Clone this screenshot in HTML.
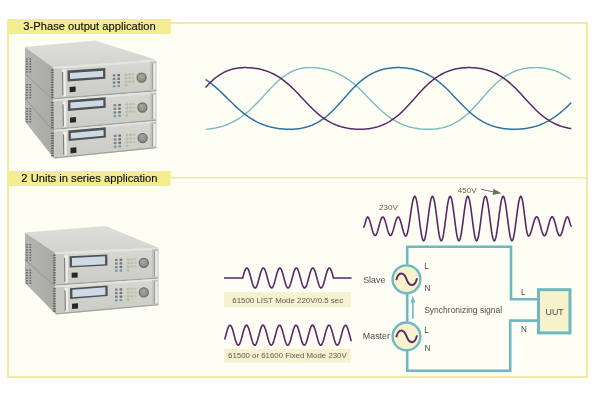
<!DOCTYPE html>
<html><head><meta charset="utf-8"><style>
html,body{margin:0;padding:0;background:#fff;width:600px;height:400px;overflow:hidden}
svg{display:block;font-family:"Liberation Sans",sans-serif;filter:blur(0.3px)}
</style></head><body>
<svg width="600" height="400" viewBox="0 0 600 400">
<defs>
<linearGradient id="front" x1="0" y1="0" x2="0" y2="1"><stop offset="0" stop-color="#d8d8d3"/><stop offset="1" stop-color="#cbcbc6"/></linearGradient>
<linearGradient id="side" x1="0" y1="0" x2="1" y2="0"><stop offset="0" stop-color="#b6b6b1"/><stop offset="1" stop-color="#a9a9a4"/></linearGradient>
<linearGradient id="topg" x1="0" y1="0" x2="0" y2="1"><stop offset="0" stop-color="#dededa"/><stop offset="1" stop-color="#d3d3ce"/></linearGradient>
<radialGradient id="knob" cx="0.45" cy="0.4" r="0.6"><stop offset="0" stop-color="#a8a8a3"/><stop offset="1" stop-color="#85857f"/></radialGradient>
</defs>
<rect x="0" y="0" width="600" height="400" fill="#ffffff"/><rect x="8" y="23" width="579" height="354" fill="#fffef4" stroke="#f0eaa8" stroke-width="2.2"/><line x1="8" y1="177.75" x2="587" y2="177.75" stroke="#f0eaa8" stroke-width="1.5"/><rect x="7.5" y="19" width="163.5" height="15" fill="#f3ed8f"/><rect x="7.5" y="171" width="163" height="15" fill="#f3ed8f"/><text x="23.3" y="30" font-size="11.2" fill="#0c0c0c" stroke="#0c0c0c" stroke-width="0.12">3-Phase output application</text><text x="21.3" y="181.5" font-size="11.2" fill="#0c0c0c" stroke="#0c0c0c" stroke-width="0.12">2 Units in series application</text><path d="M206.00,129.15 L208.18,128.99 L209.56,128.85 L210.91,128.69 L212.24,128.51 L213.55,128.31 L214.84,128.09 L216.11,127.84 L217.37,127.57 L218.60,127.28 L219.82,126.98 L221.02,126.65 L222.20,126.30 L223.36,125.94 L224.50,125.55 L225.63,125.15 L226.74,124.73 L227.84,124.29 L228.92,123.84 L229.98,123.37 L231.03,122.88 L232.07,122.38 L233.09,121.87 L234.09,121.33 L235.08,120.79 L236.06,120.23 L237.03,119.66 L237.98,119.07 L238.92,118.48 L239.84,117.87 L240.76,117.25 L241.66,116.62 L242.55,115.97 L243.43,115.32 L244.30,114.66 L245.16,113.98 L246.01,113.30 L246.85,112.61 L247.68,111.92 L248.50,111.21 L249.31,110.50 L250.11,109.78 L251.69,108.32 L253.24,106.84 L254.77,105.34 L256.27,103.82 L257.74,102.30 L259.20,100.76 L260.64,99.22 L262.06,97.68 L263.48,96.14 L264.88,94.60 L266.27,93.08 L267.66,91.56 L269.05,90.06 L270.44,88.58 L271.83,87.12 L273.23,85.69 L274.64,84.29 L276.05,82.92 L277.48,81.58 L278.93,80.28 L280.39,79.03 L281.88,77.83 L283.39,76.67 L284.92,75.57 L286.49,74.52 L288.08,73.53 L288.89,73.06 L289.71,72.61 L290.54,72.17 L291.37,71.75 L292.22,71.35 L293.08,70.96 L293.95,70.60 L294.82,70.25 L295.71,69.92 L296.61,69.62 L297.53,69.33 L298.45,69.06 L299.39,68.81 L300.34,68.59 L301.30,68.39 L302.27,68.21 L303.26,68.05 L304.27,67.91 L305.28,67.80 L306.31,67.71 L307.36,67.65 L308.42,67.61 L309.50,67.60 L310.98,67.61 L312.43,67.65 L313.85,67.71 L315.26,67.80 L316.64,67.91 L317.99,68.05 L319.33,68.21 L320.64,68.39 L321.93,68.59 L323.20,68.81 L324.45,69.06 L325.68,69.33 L326.89,69.62 L328.08,69.92 L329.26,70.25 L330.41,70.60 L331.54,70.96 L332.66,71.35 L333.76,71.75 L334.84,72.17 L335.91,72.61 L336.96,73.06 L337.99,73.53 L339.01,74.02 L340.02,74.52 L341.01,75.03 L341.98,75.57 L342.94,76.11 L343.89,76.67 L344.83,77.24 L345.75,77.83 L346.66,78.42 L347.56,79.03 L348.45,79.65 L349.33,80.28 L350.20,80.93 L351.06,81.58 L351.90,82.24 L352.74,82.92 L353.57,83.60 L354.40,84.29 L355.21,84.98 L356.02,85.69 L356.82,86.40 L358.40,87.85 L359.96,89.32 L361.49,90.81 L363.01,92.32 L364.52,93.84 L366.02,95.37 L367.51,96.91 L369.00,98.45 L370.49,99.99 L371.98,101.53 L373.48,103.06 L374.99,104.58 L376.51,106.09 L378.04,107.58 L379.60,109.05 L381.18,110.50 L381.98,111.21 L382.79,111.92 L383.60,112.61 L384.43,113.30 L385.26,113.98 L386.10,114.66 L386.94,115.32 L387.80,115.97 L388.67,116.62 L389.55,117.25 L390.44,117.87 L391.34,118.48 L392.25,119.07 L393.17,119.66 L394.11,120.23 L395.06,120.79 L396.02,121.33 L396.99,121.87 L397.98,122.38 L398.99,122.88 L400.01,123.37 L401.04,123.84 L402.09,124.29 L403.16,124.73 L404.24,125.15 L405.34,125.55 L406.46,125.94 L407.59,126.30 L408.74,126.65 L409.92,126.98 L411.11,127.28 L412.32,127.57 L413.55,127.84 L414.80,128.09 L416.07,128.31 L417.36,128.51 L418.67,128.69 L420.01,128.85 L421.36,128.99 L422.74,129.10 L424.15,129.19 L425.57,129.25 L427.02,129.29 L428.50,129.30 L429.83,129.29 L431.13,129.25 L432.42,129.19 L433.68,129.10 L434.92,128.99 L436.14,128.85 L437.35,128.69 L438.53,128.51 L439.69,128.31 L440.83,128.09 L441.96,127.84 L443.07,127.57 L444.15,127.28 L445.23,126.98 L446.28,126.65 L447.32,126.30 L448.34,125.94 L449.34,125.55 L450.33,125.15 L451.31,124.73 L452.27,124.29 L453.21,123.84 L454.14,123.37 L455.06,122.88 L455.96,122.38 L456.86,121.87 L457.73,121.33 L458.60,120.79 L459.45,120.23 L460.30,119.66 L461.13,119.07 L461.95,118.48 L462.76,117.87 L464.35,116.62 L465.90,115.32 L467.42,113.98 L468.91,112.61 L470.37,111.21 L471.80,109.78 L473.21,108.32 L474.60,106.84 L475.98,105.34 L477.34,103.82 L478.70,102.30 L480.04,100.76 L481.38,99.22 L482.72,97.68 L484.06,96.14 L485.40,94.60 L486.76,93.08 L488.12,91.56 L489.50,90.06 L490.89,88.58 L492.30,87.12 L493.73,85.69 L495.19,84.29 L496.68,82.92 L498.20,81.58 L499.75,80.28 L501.34,79.03 L502.15,78.42 L502.97,77.83 L503.80,77.24 L504.65,76.67 L505.50,76.11 L506.37,75.57 L507.24,75.03 L508.14,74.52 L509.04,74.02 L509.96,73.53 L510.89,73.06 L511.83,72.61 L512.79,72.17 L513.77,71.75 L514.76,71.35 L515.76,70.96 L516.78,70.60 L517.82,70.25 L518.87,69.92 L519.95,69.62 L521.03,69.33 L522.14,69.06 L523.27,68.81 L524.41,68.59 L525.57,68.39 L526.75,68.21 L527.96,68.05 L529.18,67.91 L530.42,67.80 L531.68,67.71 L532.97,67.65 L534.27,67.61 L535.60,67.60 L536.94,67.61 L538.25,67.65 L539.54,67.71 L540.81,67.80 L542.06,67.91 L543.29,68.05 L544.50,68.21 L545.68,68.39 L546.85,68.59 L548.00,68.81 L549.13,69.06 L550.25,69.33 L551.34,69.62 L552.42,69.92 L553.48,70.25 L554.52,70.60 L555.55,70.96 L556.56,71.35 L557.56,71.75 L558.54,72.17 L559.50,72.61 L560.45,73.06 L561.39,73.53 L562.31,74.02 L563.22,74.52 L564.11,75.03 L565.00,75.57 L565.87,76.11 L566.73,76.67 L567.57,77.24 L568.41,77.83 L569.23,78.42 L570.05,79.03 L570.50,79.38" fill="none" stroke="#78bac2" stroke-width="1.4"/><path d="M205.50,79.38 L206.84,80.28 L207.75,80.93 L208.65,81.58 L209.54,82.24 L210.42,82.92 L211.30,83.60 L212.16,84.29 L213.02,84.98 L213.86,85.69 L214.70,86.40 L215.54,87.12 L216.36,87.85 L217.18,88.58 L218.00,89.32 L218.81,90.06 L219.62,90.81 L220.42,91.56 L222.01,93.08 L223.58,94.60 L225.15,96.14 L226.72,97.68 L228.28,99.22 L229.85,100.76 L231.42,102.30 L232.99,103.82 L234.58,105.34 L235.38,106.09 L236.19,106.84 L237.00,107.58 L237.82,108.32 L238.64,109.05 L239.46,109.78 L240.30,110.50 L241.14,111.21 L241.98,111.92 L242.84,112.61 L243.70,113.30 L244.58,113.98 L245.46,114.66 L246.35,115.32 L247.25,115.97 L248.16,116.62 L249.08,117.25 L250.02,117.87 L250.96,118.48 L251.92,119.07 L252.89,119.66 L253.87,120.23 L254.87,120.79 L255.88,121.33 L256.91,121.87 L257.95,122.38 L259.00,122.88 L260.07,123.37 L261.16,123.84 L262.26,124.29 L263.38,124.73 L264.52,125.15 L265.67,125.55 L266.85,125.94 L268.04,126.30 L269.25,126.65 L270.48,126.98 L271.73,127.28 L273.00,127.57 L274.29,127.84 L275.60,128.09 L276.94,128.31 L278.30,128.51 L279.68,128.69 L281.08,128.85 L282.50,128.99 L283.95,129.10 L285.43,129.19 L286.93,129.25 L288.45,129.29 L290.00,129.30 L291.34,129.29 L292.66,129.25 L293.95,129.19 L295.22,129.10 L296.48,128.99 L297.71,128.85 L298.92,128.69 L300.11,128.51 L301.28,128.31 L302.44,128.09 L303.57,127.84 L304.69,127.57 L305.79,127.28 L306.87,126.98 L307.93,126.65 L308.98,126.30 L310.01,125.94 L311.02,125.55 L312.02,125.15 L313.00,124.73 L313.97,124.29 L314.92,123.84 L315.86,123.37 L316.78,122.88 L317.70,122.38 L318.59,121.87 L319.48,121.33 L320.35,120.79 L321.21,120.23 L322.06,119.66 L322.90,119.07 L323.73,118.48 L324.54,117.87 L325.35,117.25 L326.94,115.97 L328.48,114.66 L330.00,113.30 L331.49,111.92 L332.94,110.50 L334.38,109.05 L335.79,107.58 L337.19,106.09 L338.57,104.58 L339.94,103.06 L341.30,101.53 L342.65,99.99 L344.00,98.45 L345.35,96.91 L346.70,95.37 L348.06,93.84 L349.43,92.32 L350.81,90.81 L352.21,89.32 L353.62,87.85 L355.06,86.40 L356.51,84.98 L358.00,83.60 L359.52,82.24 L361.06,80.93 L362.65,79.65 L363.46,79.03 L364.27,78.42 L365.10,77.83 L365.94,77.24 L366.79,76.67 L367.65,76.11 L368.52,75.57 L369.41,75.03 L370.30,74.52 L371.22,74.02 L372.14,73.53 L373.08,73.06 L374.03,72.61 L375.00,72.17 L375.98,71.75 L376.98,71.35 L377.99,70.96 L379.02,70.60 L380.07,70.25 L381.13,69.92 L382.21,69.62 L383.31,69.33 L384.43,69.06 L385.56,68.81 L386.72,68.59 L387.89,68.39 L389.08,68.21 L390.29,68.05 L391.52,67.91 L392.78,67.80 L394.05,67.71 L395.34,67.65 L396.66,67.61 L398.00,67.60 L399.44,67.61 L400.85,67.65 L402.24,67.71 L403.61,67.80 L404.96,67.91 L406.28,68.05 L407.58,68.21 L408.86,68.39 L410.12,68.59 L411.36,68.81 L412.58,69.06 L413.78,69.33 L414.96,69.62 L416.12,69.92 L417.26,70.25 L418.38,70.60 L419.49,70.96 L420.58,71.35 L421.65,71.75 L422.70,72.17 L423.74,72.61 L424.77,73.06 L425.77,73.53 L426.77,74.02 L427.75,74.52 L428.71,75.03 L429.66,75.57 L430.60,76.11 L431.53,76.67 L432.44,77.24 L433.34,77.83 L434.23,78.42 L435.10,79.03 L435.97,79.65 L436.83,80.28 L437.67,80.93 L438.51,81.58 L439.34,82.24 L440.15,82.92 L440.96,83.60 L441.76,84.29 L443.35,85.69 L444.90,87.12 L446.43,88.58 L447.94,90.06 L449.43,91.56 L450.90,93.08 L452.37,94.60 L453.82,96.14 L455.27,97.68 L456.73,99.22 L458.18,100.76 L459.63,102.30 L461.10,103.82 L462.57,105.34 L464.06,106.84 L465.57,108.32 L467.10,109.78 L468.65,111.21 L470.24,112.61 L471.04,113.30 L471.85,113.98 L472.66,114.66 L473.49,115.32 L474.33,115.97 L475.17,116.62 L476.03,117.25 L476.90,117.87 L477.77,118.48 L478.66,119.07 L479.56,119.66 L480.47,120.23 L481.40,120.79 L482.34,121.33 L483.29,121.87 L484.25,122.38 L485.23,122.88 L486.23,123.37 L487.23,123.84 L488.26,124.29 L489.30,124.73 L490.35,125.15 L491.42,125.55 L492.51,125.94 L493.62,126.30 L494.74,126.65 L495.88,126.98 L497.04,127.28 L498.22,127.57 L499.42,127.84 L500.64,128.09 L501.88,128.31 L503.14,128.51 L504.42,128.69 L505.72,128.85 L507.04,128.99 L508.39,129.10 L509.76,129.19 L511.15,129.25 L512.56,129.29 L514.00,129.30 L515.52,129.29 L517.02,129.25 L518.50,129.19 L519.95,129.10 L521.38,128.99 L522.78,128.85 L524.16,128.69 L525.52,128.51 L526.85,128.31 L528.16,128.09 L529.46,127.84 L530.73,127.57 L531.98,127.28 L533.21,126.98 L534.42,126.65 L535.61,126.30 L536.78,125.94 L537.94,125.55 L539.08,125.15 L540.19,124.73 L541.30,124.29 L542.38,123.84 L543.45,123.37 L544.50,122.88 L545.54,122.38 L546.56,121.87 L547.57,121.33 L548.57,120.79 L549.55,120.23 L550.52,119.66 L551.47,119.07 L552.41,118.48 L553.34,117.87 L554.26,117.25 L555.17,116.62 L556.07,115.97 L556.95,115.32 L557.83,114.66 L558.70,113.98 L559.56,113.30 L560.41,112.61 L561.25,111.92 L562.08,111.21 L562.91,110.50 L563.73,109.78 L564.54,109.05 L565.35,108.32 L566.15,107.58 L567.74,106.09 L569.31,104.58 L570.87,103.06 L571.30,102.64" fill="none" stroke="#2d72a5" stroke-width="1.5"/><path d="M205.50,87.54 L206.51,86.40 L207.82,84.98 L209.15,83.60 L210.51,82.24 L211.89,80.93 L213.31,79.65 L214.77,78.42 L216.26,77.24 L217.80,76.11 L219.37,75.03 L220.18,74.52 L220.99,74.02 L221.82,73.53 L222.66,73.06 L223.52,72.61 L224.39,72.17 L225.27,71.75 L226.16,71.35 L227.07,70.96 L227.99,70.60 L228.93,70.25 L229.88,69.92 L230.85,69.62 L231.84,69.33 L232.84,69.06 L233.85,68.81 L234.89,68.59 L235.94,68.39 L237.00,68.21 L238.09,68.05 L239.20,67.91 L240.32,67.80 L241.46,67.71 L242.62,67.65 L243.80,67.61 L245.00,67.60 L246.43,67.61 L247.83,67.65 L249.21,67.71 L250.56,67.80 L251.90,67.91 L253.21,68.05 L254.50,68.21 L255.77,68.39 L257.02,68.59 L258.24,68.81 L259.45,69.06 L260.64,69.33 L261.81,69.62 L262.96,69.92 L264.09,70.25 L265.21,70.60 L266.30,70.96 L267.38,71.35 L268.44,71.75 L269.49,72.17 L270.52,72.61 L271.54,73.06 L272.54,73.53 L273.52,74.02 L274.49,74.52 L275.45,75.03 L276.39,75.57 L277.32,76.11 L278.24,76.67 L279.14,77.24 L280.03,77.83 L280.91,78.42 L281.78,79.03 L282.64,79.65 L283.49,80.28 L284.33,80.93 L285.16,81.58 L285.98,82.24 L286.79,82.92 L287.59,83.60 L289.17,84.98 L290.73,86.40 L292.25,87.85 L293.76,89.32 L295.25,90.81 L296.72,92.32 L298.17,93.84 L299.62,95.37 L301.06,96.91 L302.50,98.45 L303.94,99.99 L305.38,101.53 L306.83,103.06 L308.28,104.58 L309.75,106.09 L311.24,107.58 L312.75,109.05 L314.27,110.50 L315.83,111.92 L317.41,113.30 L318.21,113.98 L319.02,114.66 L319.84,115.32 L320.67,115.97 L321.51,116.62 L322.36,117.25 L323.22,117.87 L324.09,118.48 L324.97,119.07 L325.86,119.66 L326.76,120.23 L327.68,120.79 L328.61,121.33 L329.55,121.87 L330.51,122.38 L331.48,122.88 L332.46,123.37 L333.46,123.84 L334.48,124.29 L335.51,124.73 L336.56,125.15 L337.62,125.55 L338.70,125.94 L339.79,126.30 L340.91,126.65 L342.04,126.98 L343.19,127.28 L344.36,127.57 L345.55,127.84 L346.76,128.09 L347.98,128.31 L349.23,128.51 L350.50,128.69 L351.79,128.85 L353.10,128.99 L354.44,129.10 L355.79,129.19 L357.17,129.25 L358.57,129.29 L360.00,129.30 L361.35,129.29 L362.68,129.25 L363.99,129.19 L365.27,129.10 L366.54,128.99 L367.78,128.85 L369.00,128.69 L370.21,128.51 L371.39,128.31 L372.55,128.09 L373.70,127.84 L374.82,127.57 L375.93,127.28 L377.02,126.98 L378.10,126.65 L379.15,126.30 L380.19,125.94 L381.21,125.55 L382.22,125.15 L383.21,124.73 L384.19,124.29 L385.15,123.84 L386.10,123.37 L387.03,122.88 L387.95,122.38 L388.86,121.87 L389.75,121.33 L390.63,120.79 L391.50,120.23 L392.36,119.66 L393.21,119.07 L394.04,118.48 L394.86,117.87 L395.68,117.25 L396.48,116.62 L398.06,115.32 L399.61,113.98 L401.12,112.61 L402.61,111.21 L404.07,109.78 L405.51,108.32 L406.92,106.84 L408.32,105.34 L409.71,103.82 L411.09,102.30 L412.45,100.76 L413.82,99.22 L415.18,97.68 L416.55,96.14 L417.91,94.60 L419.29,93.08 L420.68,91.56 L422.08,90.06 L423.49,88.58 L424.93,87.12 L426.39,85.69 L427.88,84.29 L429.39,82.92 L430.94,81.58 L432.52,80.28 L433.32,79.65 L434.14,79.03 L434.96,78.42 L435.79,77.83 L436.64,77.24 L437.50,76.67 L438.37,76.11 L439.25,75.57 L440.14,75.03 L441.05,74.52 L441.97,74.02 L442.90,73.53 L443.85,73.06 L444.81,72.61 L445.79,72.17 L446.78,71.75 L447.79,71.35 L448.81,70.96 L449.85,70.60 L450.90,70.25 L451.98,69.92 L453.07,69.62 L454.18,69.33 L455.30,69.06 L456.45,68.81 L457.61,68.59 L458.79,68.39 L460.00,68.21 L461.22,68.05 L462.46,67.91 L463.73,67.80 L465.01,67.71 L466.32,67.65 L467.65,67.61 L469.00,67.60 L470.39,67.61 L471.75,67.65 L473.10,67.71 L474.42,67.80 L475.72,67.91 L476.99,68.05 L478.25,68.21 L479.49,68.39 L480.70,68.59 L481.90,68.81 L483.07,69.06 L484.23,69.33 L485.37,69.62 L486.49,69.92 L487.59,70.25 L488.68,70.60 L489.75,70.96 L490.80,71.35 L491.83,71.75 L492.85,72.17 L493.86,72.61 L494.84,73.06 L495.82,73.53 L496.78,74.02 L497.72,74.52 L498.65,75.03 L499.57,75.57 L500.48,76.11 L501.37,76.67 L502.25,77.24 L503.12,77.83 L503.98,78.42 L504.82,79.03 L505.66,79.65 L506.49,80.28 L507.30,80.93 L508.11,81.58 L509.70,82.92 L511.26,84.29 L512.78,85.69 L514.28,87.12 L515.76,88.58 L517.21,90.06 L518.65,91.56 L520.08,93.08 L521.49,94.60 L522.90,96.14 L524.30,97.68 L525.70,99.22 L527.10,100.76 L528.51,102.30 L529.92,103.82 L531.35,105.34 L532.79,106.84 L534.24,108.32 L535.72,109.78 L537.22,111.21 L538.74,112.61 L540.30,113.98 L541.89,115.32 L542.70,115.97 L543.51,116.62 L544.34,117.25 L545.18,117.87 L546.02,118.48 L546.88,119.07 L547.75,119.66 L548.63,120.23 L549.52,120.79 L550.43,121.33 L551.35,121.87 L552.28,122.38 L553.22,122.88 L554.18,123.37 L555.16,123.84 L556.14,124.29 L557.15,124.73 L558.17,125.15 L559.20,125.55 L560.25,125.94 L561.32,126.30 L562.41,126.65 L563.51,126.98 L564.63,127.28 L565.77,127.57 L566.93,127.84 L568.10,128.09 L569.30,128.31 L570.51,128.51 L571.30,128.63" fill="none" stroke="#572866" stroke-width="1.5"/><path d="M363.30,227.50 L363.82,227.10 L364.35,225.96 L364.88,224.26 L365.40,222.25 L365.93,220.24 L366.45,218.54 L366.98,217.40 L367.50,217.00 L368.01,217.20 L368.51,217.80 L369.02,218.77 L369.53,220.06 L370.03,221.62 L370.54,223.39 L371.05,225.28 L371.55,227.22 L372.06,229.11 L372.57,230.88 L373.07,232.44 L373.58,233.73 L374.09,234.70 L374.59,235.30 L375.10,235.50 L375.61,235.30 L376.13,234.70 L376.64,233.73 L377.15,232.44 L377.67,230.88 L378.18,229.11 L378.69,227.22 L379.21,225.28 L379.72,223.39 L380.23,221.62 L380.75,220.06 L381.26,218.77 L381.77,217.80 L382.29,217.20 L382.80,217.00 L383.31,217.20 L383.81,217.80 L384.32,218.77 L384.83,220.06 L385.33,221.62 L385.84,223.39 L386.35,225.28 L386.85,227.22 L387.36,229.11 L387.87,230.88 L388.37,232.44 L388.88,233.73 L389.39,234.70 L389.89,235.30 L390.40,235.50 L390.92,235.30 L391.44,234.70 L391.96,233.73 L392.48,232.44 L393.00,230.88 L393.52,229.11 L394.04,227.22 L394.56,225.28 L395.08,223.39 L395.60,221.62 L396.12,220.06 L396.64,218.77 L397.16,217.80 L397.68,217.20 L398.20,217.00 L398.71,217.21 L399.21,217.82 L399.72,218.81 L400.23,220.14 L400.73,221.75 L401.24,223.56 L401.75,225.51 L402.25,227.49 L402.76,229.44 L403.27,231.25 L403.77,232.86 L404.28,234.19 L404.79,235.18 L405.29,235.79 L405.80,236.00 L406.30,235.70 L406.80,234.80 L407.30,233.34 L407.80,231.36 L408.30,228.91 L408.80,226.08 L409.30,222.94 L409.80,219.60 L410.30,216.15 L410.80,212.70 L411.30,209.36 L411.80,206.23 L412.30,203.39 L412.80,200.94 L413.30,198.96 L413.80,197.50 L414.30,196.60 L414.80,196.30 L415.32,196.68 L415.84,197.80 L416.35,199.63 L416.87,202.11 L417.39,205.14 L417.91,208.63 L418.42,212.46 L418.94,216.50 L419.46,220.60 L419.98,224.64 L420.49,228.47 L421.01,231.96 L421.53,234.99 L422.05,237.47 L422.56,239.30 L423.08,240.42 L423.60,240.80 L424.12,240.42 L424.64,239.30 L425.17,237.47 L425.69,234.99 L426.21,231.96 L426.73,228.47 L427.25,224.64 L427.77,220.60 L428.30,216.50 L428.82,212.46 L429.34,208.63 L429.86,205.14 L430.38,202.11 L430.90,199.63 L431.43,197.80 L431.95,196.68 L432.47,196.30 L432.99,196.68 L433.51,197.80 L434.02,199.63 L434.54,202.11 L435.06,205.14 L435.58,208.63 L436.09,212.46 L436.61,216.50 L437.13,220.60 L437.65,224.64 L438.16,228.47 L438.68,231.96 L439.20,234.99 L439.72,237.47 L440.23,239.30 L440.75,240.42 L441.27,240.80 L441.79,240.42 L442.31,239.30 L442.84,237.47 L443.36,234.99 L443.88,231.96 L444.40,228.47 L444.92,224.64 L445.44,220.60 L445.97,216.50 L446.49,212.46 L447.01,208.63 L447.53,205.14 L448.05,202.11 L448.57,199.63 L449.10,197.80 L449.62,196.68 L450.14,196.30 L450.66,196.68 L451.18,197.80 L451.69,199.63 L452.21,202.11 L452.73,205.14 L453.25,208.63 L453.76,212.46 L454.28,216.50 L454.80,220.60 L455.32,224.64 L455.83,228.47 L456.35,231.96 L456.87,234.99 L457.39,237.47 L457.90,239.30 L458.42,240.42 L458.94,240.80 L459.46,240.42 L459.98,239.30 L460.51,237.47 L461.03,234.99 L461.55,231.96 L462.07,228.47 L462.59,224.64 L463.11,220.60 L463.64,216.50 L464.16,212.46 L464.68,208.63 L465.20,205.14 L465.72,202.11 L466.24,199.63 L466.77,197.80 L467.29,196.68 L467.81,196.30 L468.33,196.68 L468.85,197.80 L469.36,199.63 L469.88,202.11 L470.40,205.14 L470.92,208.63 L471.43,212.46 L471.95,216.50 L472.47,220.60 L472.99,224.64 L473.50,228.47 L474.02,231.96 L474.54,234.99 L475.06,237.47 L475.57,239.30 L476.09,240.42 L476.61,240.80 L477.13,240.42 L477.65,239.30 L478.18,237.47 L478.70,234.99 L479.22,231.96 L479.74,228.47 L480.26,224.64 L480.78,220.60 L481.31,216.50 L481.83,212.46 L482.35,208.63 L482.87,205.14 L483.39,202.11 L483.91,199.63 L484.44,197.80 L484.96,196.68 L485.48,196.30 L486.00,196.68 L486.52,197.80 L487.03,199.63 L487.55,202.11 L488.07,205.14 L488.59,208.63 L489.10,212.46 L489.62,216.50 L490.14,220.60 L490.66,224.64 L491.17,228.47 L491.69,231.96 L492.21,234.99 L492.73,237.47 L493.24,239.30 L493.76,240.42 L494.28,240.80 L494.80,240.42 L495.32,239.30 L495.85,237.47 L496.37,234.99 L496.89,231.96 L497.41,228.47 L497.93,224.64 L498.45,220.60 L498.98,216.50 L499.50,212.46 L500.02,208.63 L500.54,205.14 L501.06,202.11 L501.58,199.63 L502.11,197.80 L502.63,196.68 L503.15,196.30 L503.67,196.68 L504.19,197.80 L504.70,199.63 L505.22,202.11 L505.74,205.14 L506.26,208.63 L506.77,212.46 L507.29,216.50 L507.81,220.60 L508.33,224.64 L508.84,228.47 L509.36,231.96 L509.88,234.99 L510.40,237.47 L510.91,239.30 L511.43,240.42 L511.95,240.80 L512.47,240.42 L512.99,239.30 L513.52,237.47 L514.04,234.99 L514.56,231.96 L515.08,228.47 L515.60,224.64 L516.12,220.60 L516.65,216.50 L517.17,212.46 L517.69,208.63 L518.21,205.14 L518.73,202.11 L519.25,199.63 L519.78,197.80 L520.30,196.68 L520.82,196.30 L521.33,196.73 L521.84,198.02 L522.36,200.09 L522.87,202.87 L523.38,206.22 L523.89,210.02 L524.40,214.08 L524.92,218.22 L525.43,222.28 L525.94,226.07 L526.45,229.43 L526.96,232.21 L527.48,234.28 L527.99,235.57 L528.50,236.00 L529.01,235.82 L529.52,235.27 L530.04,234.38 L530.55,233.19 L531.06,231.73 L531.58,230.07 L532.09,228.27 L532.60,226.40 L533.11,224.53 L533.62,222.73 L534.14,221.07 L534.65,219.61 L535.16,218.42 L535.68,217.53 L536.19,216.98 L536.70,216.80 L537.21,217.01 L537.73,217.62 L538.24,218.61 L538.75,219.94 L539.27,221.55 L539.78,223.36 L540.29,225.31 L540.81,227.29 L541.32,229.24 L541.83,231.05 L542.35,232.66 L542.86,233.99 L543.37,234.98 L543.89,235.59 L544.40,235.80 L544.91,235.59 L545.43,234.98 L545.94,233.99 L546.45,232.66 L546.97,231.05 L547.48,229.24 L547.99,227.29 L548.51,225.31 L549.02,223.36 L549.53,221.55 L550.05,219.94 L550.56,218.61 L551.07,217.62 L551.59,217.01 L552.10,216.80 L552.61,217.01 L553.13,217.62 L553.64,218.61 L554.15,219.94 L554.67,221.55 L555.18,223.36 L555.69,225.31 L556.21,227.29 L556.72,229.24 L557.23,231.05 L557.75,232.66 L558.26,233.99 L558.77,234.98 L559.29,235.59 L559.80,235.80 L560.31,235.59 L560.83,234.98 L561.34,233.99 L561.85,232.66 L562.37,231.05 L562.88,229.24 L563.39,227.29 L563.91,225.31 L564.42,223.36 L564.93,221.55 L565.45,219.94 L565.96,218.61 L566.47,217.62 L566.99,217.01 L567.50,216.80 L568.02,217.18 L568.55,218.25 L569.08,219.86 L569.60,221.75 L570.12,223.64 L570.65,225.25 L571.18,226.32 L571.70,226.70" fill="none" stroke="#572866" stroke-width="1.6"/><text x="379" y="210" font-size="8.1" fill="#5a5a5a">230V</text><text x="457.8" y="193" font-size="8.0" fill="#5a5a5a">450V</text><line x1="481" y1="189.3" x2="495" y2="192.2" stroke="#707070" stroke-width="1"/><polygon points="501.5,193.2 493.5,188.8 492.6,195" fill="#707070"/><path d="M224,278 L242.7,278 242.70,278.00 L243.20,276.12 L243.69,274.31 L244.19,272.63 L244.68,271.14 L245.18,269.90 L245.68,268.94 L246.17,268.31 L246.67,268.02 L247.16,268.08 L247.66,268.50 L248.15,269.26 L248.65,270.32 L249.15,271.66 L249.64,273.22 L250.14,274.96 L250.63,276.80 L251.13,278.69 L251.63,280.55 L252.12,282.32 L252.62,283.93 L253.11,285.34 L253.61,286.48 L254.11,287.33 L254.60,287.84 L255.10,288.00 L255.59,287.81 L256.09,287.26 L256.59,286.39 L257.08,285.22 L257.58,283.79 L258.07,282.16 L258.57,280.38 L259.06,278.51 L259.56,276.63 L260.06,274.80 L260.55,273.07 L261.05,271.53 L261.54,270.21 L262.04,269.17 L262.54,268.45 L263.03,268.06 L263.53,268.03 L264.02,268.35 L264.52,269.02 L265.02,270.00 L265.51,271.27 L266.01,272.78 L266.50,274.47 L267.00,276.29 L267.50,278.17 L267.99,280.05 L268.49,281.85 L268.98,283.51 L269.48,284.98 L269.97,286.20 L270.47,287.13 L270.97,287.73 L271.46,287.99 L271.96,287.89 L272.45,287.44 L272.95,286.66 L273.45,285.57 L273.94,284.21 L274.44,282.62 L274.93,280.88 L275.43,279.03 L275.93,277.14 L276.42,275.29 L276.92,273.53 L277.41,271.93 L277.91,270.55 L278.40,269.43 L278.90,268.61 L279.40,268.13 L279.89,268.00 L280.39,268.23 L280.88,268.80 L281.38,269.70 L281.88,270.90 L282.37,272.35 L282.87,274.00 L283.36,275.79 L283.86,277.66 L284.36,279.54 L284.85,281.37 L285.35,283.07 L285.84,284.60 L286.34,285.89 L286.84,286.91 L287.33,287.60 L287.83,287.96 L288.32,287.96 L288.82,287.60 L289.31,286.91 L289.81,285.89 L290.31,284.60 L290.80,283.07 L291.30,281.37 L291.79,279.54 L292.29,277.66 L292.79,275.79 L293.28,274.00 L293.78,272.35 L294.27,270.90 L294.77,269.70 L295.27,268.80 L295.76,268.23 L296.26,268.00 L296.75,268.13 L297.25,268.61 L297.75,269.43 L298.24,270.55 L298.74,271.93 L299.23,273.53 L299.73,275.29 L300.22,277.14 L300.72,279.03 L301.22,280.88 L301.71,282.62 L302.21,284.21 L302.70,285.57 L303.20,286.66 L303.70,287.44 L304.19,287.89 L304.69,287.99 L305.18,287.73 L305.68,287.13 L306.18,286.20 L306.67,284.98 L307.17,283.51 L307.66,281.85 L308.16,280.05 L308.65,278.17 L309.15,276.29 L309.65,274.47 L310.14,272.78 L310.64,271.27 L311.13,270.00 L311.63,269.02 L312.13,268.35 L312.62,268.03 L313.12,268.06 L313.61,268.45 L314.11,269.17 L314.61,270.21 L315.10,271.53 L315.60,273.07 L316.09,274.80 L316.59,276.63 L317.09,278.51 L317.58,280.38 L318.08,282.16 L318.57,283.79 L319.07,285.22 L319.56,286.39 L320.06,287.26 L320.56,287.81 L321.05,288.00 L321.55,287.84 L322.04,287.33 L322.54,286.48 L323.04,285.34 L323.53,283.93 L324.03,282.32 L324.52,280.55 L325.02,278.69 L325.52,276.80 L326.01,274.96 L326.51,273.22 L327.00,271.66 L327.50,270.32 L328.00,269.26 L328.49,268.50 L328.99,268.08 L329.48,268.02 L329.98,268.31 L330.47,268.94 L330.97,269.90 L331.47,271.14 L331.96,272.63 L332.46,274.31 L332.95,276.12 L333.45,278.00 L351.6,278" fill="none" stroke="#572866" stroke-width="1.6"/><path d="M224.70,339.53 L225.20,337.76 L225.69,335.89 L226.19,334.01 L226.69,332.16 L227.18,330.42 L227.68,328.86 L228.18,327.52 L228.67,326.45 L229.17,325.70 L229.66,325.28 L230.16,325.22 L230.66,325.51 L231.15,326.15 L231.65,327.11 L232.15,328.36 L232.64,329.85 L233.14,331.54 L233.64,333.35 L234.13,335.23 L234.63,337.11 L235.13,338.92 L235.62,340.60 L236.12,342.08 L236.62,343.32 L237.11,344.28 L237.61,344.90 L238.10,345.18 L238.60,345.11 L239.10,344.68 L239.59,343.92 L240.09,342.84 L240.59,341.49 L241.08,339.92 L241.58,338.18 L242.08,336.33 L242.57,334.45 L243.07,332.59 L243.57,330.82 L244.06,329.21 L244.56,327.81 L245.06,326.68 L245.55,325.84 L246.05,325.35 L246.54,325.20 L247.04,325.41 L247.54,325.97 L248.03,326.86 L248.53,328.04 L249.03,329.48 L249.52,331.13 L250.02,332.92 L250.52,334.79 L251.01,336.67 L251.51,338.50 L252.01,340.22 L252.50,341.76 L253.00,343.06 L253.50,344.08 L253.99,344.79 L254.49,345.15 L254.98,345.16 L255.48,344.81 L255.98,344.13 L256.47,343.12 L256.97,341.83 L257.47,340.31 L257.96,338.60 L258.46,336.77 L258.96,334.89 L259.45,333.02 L259.95,331.22 L260.45,329.57 L260.94,328.12 L261.44,326.92 L261.94,326.01 L262.43,325.43 L262.93,325.20 L263.42,325.33 L263.92,325.81 L264.42,326.62 L264.91,327.74 L265.41,329.13 L265.91,330.73 L266.40,332.49 L266.90,334.34 L267.40,336.23 L267.89,338.08 L268.39,339.83 L268.89,341.41 L269.38,342.78 L269.88,343.87 L270.38,344.65 L270.87,345.10 L271.37,345.19 L271.86,344.93 L272.36,344.32 L272.86,343.38 L273.35,342.16 L273.85,340.68 L274.35,339.02 L274.84,337.21 L275.34,335.33 L275.84,333.45 L276.33,331.63 L276.83,329.94 L277.33,328.44 L277.82,327.17 L278.32,326.19 L278.82,325.54 L279.31,325.23 L279.81,325.27 L280.30,325.67 L280.80,326.40 L281.30,327.45 L281.79,328.78 L282.29,330.33 L282.79,332.06 L283.28,333.90 L283.78,335.79 L284.28,337.66 L284.77,339.43 L285.27,341.06 L285.77,342.48 L286.26,343.64 L286.76,344.50 L287.26,345.02 L287.75,345.20 L288.25,345.02 L288.74,344.49 L289.24,343.63 L289.74,342.47 L290.23,341.05 L290.73,339.42 L291.23,337.64 L291.72,335.78 L292.22,333.89 L292.72,332.05 L293.21,330.32 L293.71,328.77 L294.21,327.44 L294.70,326.40 L295.20,325.66 L295.70,325.27 L296.19,325.23 L296.69,325.54 L297.18,326.20 L297.68,327.18 L298.18,328.45 L298.67,329.95 L299.17,331.65 L299.67,333.46 L300.16,335.35 L300.66,337.22 L301.16,339.03 L301.65,340.70 L302.15,342.17 L302.65,343.39 L303.14,344.32 L303.64,344.93 L304.14,345.19 L304.63,345.09 L305.13,344.65 L305.62,343.86 L306.12,342.77 L306.62,341.40 L307.11,339.82 L307.61,338.07 L308.11,336.22 L308.60,334.33 L309.10,332.47 L309.60,330.71 L310.09,329.11 L310.59,327.73 L311.09,326.62 L311.58,325.80 L312.08,325.33 L312.58,325.20 L313.07,325.44 L313.57,326.02 L314.06,326.92 L314.56,328.13 L315.06,329.58 L315.55,331.23 L316.05,333.03 L316.55,334.90 L317.04,336.79 L317.54,338.61 L318.04,340.32 L318.53,341.84 L319.03,343.13 L319.53,344.13 L320.02,344.82 L320.52,345.16 L321.02,345.15 L321.51,344.78 L322.01,344.07 L322.50,343.05 L323.00,341.75 L323.50,340.21 L323.99,338.49 L324.49,336.66 L324.99,334.77 L325.48,332.90 L325.98,331.12 L326.48,329.47 L326.97,328.03 L327.47,326.85 L327.97,325.97 L328.46,325.41 L328.96,325.20 L329.46,325.35 L329.95,325.85 L330.45,326.68 L330.94,327.82 L331.44,329.22 L331.94,330.83 L332.43,332.60 L332.93,334.46 L333.43,336.35 L333.92,338.19 L334.42,339.93 L334.92,341.50 L335.41,342.85 L335.91,343.93 L336.41,344.69 L336.90,345.11 L337.40,345.18 L337.90,344.90 L338.39,344.27 L338.89,343.32 L339.38,342.07 L339.88,340.59 L340.38,338.91 L340.87,337.10 L341.37,335.22 L341.87,333.34 L342.36,331.52 L342.86,329.84 L343.36,328.35 L343.85,327.10 L344.35,326.14 L344.85,325.51 L345.34,325.22 L345.84,325.28 L346.34,325.70 L346.83,326.46 L347.33,327.53 L347.82,328.87 L348.32,330.44 L348.82,332.17 L349.31,334.02 L349.81,335.91 L350.31,337.77 L350.80,339.54 L351.30,341.15" fill="none" stroke="#572866" stroke-width="1.6"/><rect x="224" y="292.2" width="126.7" height="15" fill="#f6f1cf"/><rect x="224" y="349" width="126.7" height="13.5" fill="#f6f1cf"/><text x="232.3" y="302.8" font-size="7.9" fill="#5a5a5a">61500 LIST Mode 220V/0.5 sec</text><text x="228.1" y="358.2" font-size="7.85" fill="#5a5a5a">61500 or 61600 Fixed Mode 230V</text><path d="M407.2,264.5 L407.2,246.8 L511,246.8 L511,299.3 L538.5,299.3" fill="none" stroke="#6fb7c1" stroke-width="2.6" stroke-linejoin="miter"/><path d="M407.2,294 L407.2,321.5" fill="none" stroke="#6fb7c1" stroke-width="2.6"/><path d="M407.2,351 L407.2,370.8 L510.2,370.8 L510.2,320.6 L538.5,320.6" fill="none" stroke="#6fb7c1" stroke-width="2.6" stroke-linejoin="miter"/><circle cx="406.5" cy="279.3" r="13.9" fill="#f7f2cc" stroke="#6fb7c1" stroke-width="2.4"/><path d="M396.3,280.1 C398.3,271.40000000000003 403.6,271.40000000000003 406.6,279.3 C409.6,287.2 415.0,287.2 417.0,278.3" fill="none" stroke="#572866" stroke-width="1.9"/><circle cx="406.5" cy="336.4" r="13.9" fill="#f7f2cc" stroke="#6fb7c1" stroke-width="2.4"/><path d="M396.3,337.2 C398.3,328.5 403.6,328.5 406.6,336.4 C409.6,344.29999999999995 415.0,344.29999999999995 417.0,335.4" fill="none" stroke="#572866" stroke-width="1.9"/><line x1="412.9" y1="318.7" x2="412.9" y2="300" stroke="#6fb7c1" stroke-width="1.6"/><polygon points="412.9,295.8 410.6,302.5 415.2,302.5" fill="#6fb7c1"/><rect x="538.5" y="289.7" width="31.5" height="43.2" fill="#f7f2cc" stroke="#6fb7c1" stroke-width="3"/><text x="545.6" y="314.8" font-size="8.8" fill="#4c4c4c">UUT</text><text x="424.2" y="269" font-size="8.2" fill="#484848">L</text><text x="424.4" y="291" font-size="8.2" fill="#484848">N</text><text x="424.2" y="332.5" font-size="8.2" fill="#484848">L</text><text x="424.4" y="350.6" font-size="8.2" fill="#484848">N</text><text x="521" y="294.7" font-size="8.2" fill="#484848">L</text><text x="521" y="331.7" font-size="8.2" fill="#484848">N</text><text x="363.2" y="282.6" font-size="8.9" fill="#4c4c4c">Slave</text><text x="362.8" y="339" font-size="8.9" fill="#4c4c4c">Master</text><text x="424.2" y="313" font-size="8.5" fill="#4c4c4c">Synchronizing signal</text><polygon points="25,47 53,67.2 54.5,159 25,121.5" fill="url(#side)"/><polygon points="25,47 95,40.5 155.5,59.5 60.5,67.4 53,67.2" fill="url(#topg)"/><polygon points="53.00,66.80 156.30,60.00 156.30,91.52 53.54,99.54" fill="url(#front)"/><polygon points="53.00,66.80 156.30,60.00 156.30,62.05 53.03,68.93" fill="#e4e4e0"/><polygon points="53.51,98.06 156.30,90.10 156.30,91.52 53.54,99.54" fill="#a3a39e"/><polygon points="53.03,68.76 61.81,68.18 62.25,97.22 53.51,97.90" fill="#c9c9c4"/><polygon points="62.35,69.45 65.55,69.24 65.94,96.29 62.75,96.53" fill="#efefeb"/><polygon points="61.97,72.09 63.11,72.01 63.46,95.50 62.32,95.58" fill="#7d7d78"/><polygon points="150.10,61.67 156.30,61.26 156.30,90.26 150.13,90.74" fill="#c2c2bd"/><polygon points="152.38,63.42 153.20,63.36 153.22,89.24 152.39,89.30" fill="#8a8a85"/><polygon points="153.20,63.36 155.58,63.20 155.58,89.06 153.22,89.24" fill="#ececE8"/><polygon points="67.53,70.59 105.31,68.04 105.40,78.75 67.68,81.45" fill="#4d5259"/><polygon points="69.94,72.98 103.06,70.71 103.11,76.75 70.02,79.09" fill="#cfdbe3"/><polygon points="69.61,86.88 75.59,86.44 75.65,91.71 69.69,92.16" fill="#262626"/><rect x="112.80" y="74.31" width="2.6" height="2.2" fill="#7c8086"/><rect x="117.40" y="74.01" width="2.6" height="2.2" fill="#6c7076"/><rect x="124.70" y="73.53" width="2.6" height="2.2" fill="#bcb8a2"/><rect x="128.30" y="73.29" width="2.6" height="2.2" fill="#c0bca6"/><rect x="131.70" y="73.07" width="2.6" height="2.2" fill="#c4c0aa"/><rect x="112.80" y="77.91" width="2.6" height="2.2" fill="#7c8086"/><rect x="117.40" y="77.61" width="2.6" height="2.2" fill="#6c7076"/><rect x="124.70" y="77.13" width="2.6" height="2.2" fill="#bcb8a2"/><rect x="128.30" y="76.89" width="2.6" height="2.2" fill="#c0bca6"/><rect x="131.70" y="76.67" width="2.6" height="2.2" fill="#c4c0aa"/><rect x="112.80" y="81.51" width="2.6" height="2.2" fill="#7c8086"/><rect x="117.40" y="81.21" width="2.6" height="2.2" fill="#6c7076"/><rect x="124.70" y="80.73" width="2.6" height="2.2" fill="#bcb8a2"/><rect x="128.30" y="80.49" width="2.6" height="2.2" fill="#c0bca6"/><rect x="131.70" y="80.27" width="2.6" height="2.2" fill="#c4c0aa"/><rect x="112.80" y="85.11" width="2.6" height="2.2" fill="#6a9fb2"/><rect x="117.40" y="84.81" width="2.6" height="2.2" fill="#6a9fb2"/><rect x="124.70" y="84.33" width="2.6" height="2.2" fill="#bcb8a2"/><circle cx="141.60" cy="77.60" r="4.6" fill="url(#knob)" stroke="#6a6a65" stroke-width="1.1"/><polygon points="53.54,99.54 156.30,91.52 156.30,120.93 54.03,130.07" fill="url(#front)"/><polygon points="53.54,99.54 156.30,91.52 156.30,93.43 53.57,101.52" fill="#e4e4e0"/><polygon points="54.01,128.70 156.30,119.60 156.30,120.93 54.03,130.07" fill="#a3a39e"/><polygon points="53.57,101.37 62.30,100.68 62.70,127.77 54.01,128.55" fill="#c9c9c4"/><polygon points="62.83,101.86 66.01,101.61 66.38,126.84 63.21,127.12" fill="#efefeb"/><polygon points="62.46,104.33 63.58,104.24 63.91,126.14 62.78,126.24" fill="#7d7d78"/><polygon points="150.14,93.18 156.30,92.70 156.30,119.75 150.16,120.30" fill="#c2c2bd"/><polygon points="152.40,94.77 153.22,94.71 153.23,118.85 152.41,118.92" fill="#8a8a85"/><polygon points="153.22,94.71 155.58,94.52 155.58,118.64 153.23,118.85" fill="#ececE8"/><polygon points="67.95,100.24 105.55,97.28 105.64,107.81 68.10,110.91" fill="#4d5259"/><polygon points="70.35,102.61 103.31,99.98 103.36,105.83 70.43,108.53" fill="#cfdbe3"/><polygon points="70.04,117.60 75.98,117.09 76.05,122.18 70.11,122.70" fill="#262626"/><rect x="113.60" y="104.21" width="2.6" height="2.2" fill="#7c8086"/><rect x="118.20" y="103.91" width="2.6" height="2.2" fill="#6c7076"/><rect x="125.50" y="103.43" width="2.6" height="2.2" fill="#bcb8a2"/><rect x="129.10" y="103.19" width="2.6" height="2.2" fill="#c0bca6"/><rect x="132.50" y="102.97" width="2.6" height="2.2" fill="#c4c0aa"/><rect x="113.60" y="107.81" width="2.6" height="2.2" fill="#7c8086"/><rect x="118.20" y="107.51" width="2.6" height="2.2" fill="#6c7076"/><rect x="125.50" y="107.03" width="2.6" height="2.2" fill="#bcb8a2"/><rect x="129.10" y="106.79" width="2.6" height="2.2" fill="#c0bca6"/><rect x="132.50" y="106.57" width="2.6" height="2.2" fill="#c4c0aa"/><rect x="113.60" y="111.41" width="2.6" height="2.2" fill="#7c8086"/><rect x="118.20" y="111.11" width="2.6" height="2.2" fill="#6c7076"/><rect x="125.50" y="110.63" width="2.6" height="2.2" fill="#bcb8a2"/><rect x="129.10" y="110.39" width="2.6" height="2.2" fill="#c0bca6"/><rect x="132.50" y="110.17" width="2.6" height="2.2" fill="#c4c0aa"/><rect x="113.60" y="115.01" width="2.6" height="2.2" fill="#6a9fb2"/><rect x="118.20" y="114.71" width="2.6" height="2.2" fill="#6a9fb2"/><rect x="125.50" y="114.23" width="2.6" height="2.2" fill="#bcb8a2"/><circle cx="142.40" cy="107.50" r="4.6" fill="url(#knob)" stroke="#6a6a65" stroke-width="1.1"/><polygon points="54.03,130.07 156.30,120.93 156.30,148.30 54.50,158.50" fill="url(#front)"/><polygon points="54.03,130.07 156.30,120.93 156.30,122.71 54.07,131.92" fill="#e4e4e0"/><polygon points="54.48,157.22 156.30,147.07 156.30,148.30 54.50,158.50" fill="#a3a39e"/><polygon points="54.06,131.78 62.75,131.00 63.13,156.22 54.48,157.08" fill="#c9c9c4"/><polygon points="63.28,132.08 66.45,131.80 66.79,155.28 63.63,155.60" fill="#efefeb"/><polygon points="62.91,134.39 64.03,134.28 64.33,154.68 63.21,154.79" fill="#7d7d78"/><polygon points="150.17,122.57 156.30,122.02 156.30,147.21 150.19,147.81" fill="#c2c2bd"/><polygon points="152.42,124.02 153.23,123.94 153.24,146.41 152.43,146.49" fill="#8a8a85"/><polygon points="153.23,123.94 155.58,123.73 155.59,146.18 153.24,146.41" fill="#ececE8"/><polygon points="68.38,130.62 105.80,127.24 105.88,137.59 68.53,141.11" fill="#4d5259"/><polygon points="70.76,132.96 103.57,129.97 103.62,135.64 70.84,138.70" fill="#cfdbe3"/><polygon points="70.46,147.77 76.37,147.20 76.44,152.84 70.54,153.42" fill="#262626"/><rect x="113.80" y="134.81" width="2.6" height="2.2" fill="#7c8086"/><rect x="118.40" y="134.51" width="2.6" height="2.2" fill="#6c7076"/><rect x="125.70" y="134.03" width="2.6" height="2.2" fill="#bcb8a2"/><rect x="129.30" y="133.79" width="2.6" height="2.2" fill="#c0bca6"/><rect x="132.70" y="133.57" width="2.6" height="2.2" fill="#c4c0aa"/><rect x="113.80" y="138.41" width="2.6" height="2.2" fill="#7c8086"/><rect x="118.40" y="138.11" width="2.6" height="2.2" fill="#6c7076"/><rect x="125.70" y="137.63" width="2.6" height="2.2" fill="#bcb8a2"/><rect x="129.30" y="137.39" width="2.6" height="2.2" fill="#c0bca6"/><rect x="132.70" y="137.17" width="2.6" height="2.2" fill="#c4c0aa"/><rect x="113.80" y="142.01" width="2.6" height="2.2" fill="#7c8086"/><rect x="118.40" y="141.71" width="2.6" height="2.2" fill="#6c7076"/><rect x="125.70" y="141.23" width="2.6" height="2.2" fill="#bcb8a2"/><rect x="129.30" y="140.99" width="2.6" height="2.2" fill="#c0bca6"/><rect x="132.70" y="140.77" width="2.6" height="2.2" fill="#c4c0aa"/><rect x="113.80" y="145.61" width="2.6" height="2.2" fill="#6a9fb2"/><rect x="118.40" y="145.31" width="2.6" height="2.2" fill="#6a9fb2"/><rect x="125.70" y="144.83" width="2.6" height="2.2" fill="#bcb8a2"/><circle cx="142.60" cy="138.10" r="4.6" fill="url(#knob)" stroke="#6a6a65" stroke-width="1.1"/><line x1="25" y1="73.60" x2="53" y2="99.97" stroke="#9d9d98" stroke-width="1.1"/><line x1="25" y1="98.41" x2="53" y2="130.54" stroke="#9d9d98" stroke-width="1.1"/><rect x="26.0" y="58.17" width="1.8" height="1.4" fill="#6a6a65"/><rect x="29.4" y="58.17" width="1.8" height="1.4" fill="#6a6a65"/><rect x="26.0" y="60.77" width="1.8" height="1.4" fill="#6a6a65"/><rect x="29.4" y="60.77" width="1.8" height="1.4" fill="#6a6a65"/><rect x="26.0" y="63.37" width="1.8" height="1.4" fill="#6a6a65"/><rect x="29.4" y="63.37" width="1.8" height="1.4" fill="#6a6a65"/><rect x="26.0" y="65.97" width="1.8" height="1.4" fill="#6a6a65"/><rect x="29.4" y="65.97" width="1.8" height="1.4" fill="#6a6a65"/><rect x="26.0" y="68.57" width="1.8" height="1.4" fill="#6a6a65"/><rect x="29.4" y="68.57" width="1.8" height="1.4" fill="#6a6a65"/><rect x="26.0" y="71.17" width="1.8" height="1.4" fill="#6a6a65"/><rect x="29.4" y="71.17" width="1.8" height="1.4" fill="#6a6a65"/><rect x="26.0" y="84.02" width="1.8" height="1.4" fill="#6a6a65"/><rect x="29.4" y="84.02" width="1.8" height="1.4" fill="#6a6a65"/><rect x="26.0" y="86.62" width="1.8" height="1.4" fill="#6a6a65"/><rect x="29.4" y="86.62" width="1.8" height="1.4" fill="#6a6a65"/><rect x="26.0" y="89.22" width="1.8" height="1.4" fill="#6a6a65"/><rect x="29.4" y="89.22" width="1.8" height="1.4" fill="#6a6a65"/><rect x="26.0" y="91.82" width="1.8" height="1.4" fill="#6a6a65"/><rect x="29.4" y="91.82" width="1.8" height="1.4" fill="#6a6a65"/><rect x="26.0" y="94.42" width="1.8" height="1.4" fill="#6a6a65"/><rect x="29.4" y="94.42" width="1.8" height="1.4" fill="#6a6a65"/><rect x="26.0" y="97.02" width="1.8" height="1.4" fill="#6a6a65"/><rect x="29.4" y="97.02" width="1.8" height="1.4" fill="#6a6a65"/><rect x="26.0" y="108.10" width="1.8" height="1.4" fill="#6a6a65"/><rect x="29.4" y="108.10" width="1.8" height="1.4" fill="#6a6a65"/><rect x="26.0" y="110.70" width="1.8" height="1.4" fill="#6a6a65"/><rect x="29.4" y="110.70" width="1.8" height="1.4" fill="#6a6a65"/><rect x="26.0" y="113.30" width="1.8" height="1.4" fill="#6a6a65"/><rect x="29.4" y="113.30" width="1.8" height="1.4" fill="#6a6a65"/><rect x="26.0" y="115.90" width="1.8" height="1.4" fill="#6a6a65"/><rect x="29.4" y="115.90" width="1.8" height="1.4" fill="#6a6a65"/><rect x="26.0" y="118.50" width="1.8" height="1.4" fill="#6a6a65"/><rect x="29.4" y="118.50" width="1.8" height="1.4" fill="#6a6a65"/><rect x="26.0" y="121.10" width="1.8" height="1.4" fill="#6a6a65"/><rect x="29.4" y="121.10" width="1.8" height="1.4" fill="#6a6a65"/><rect x="51.2" y="69.20" width="2.4" height="1.4" fill="#5f5f5a"/><rect x="51.2" y="71.70" width="2.4" height="1.4" fill="#5f5f5a"/><rect x="51.2" y="74.20" width="2.4" height="1.4" fill="#5f5f5a"/><rect x="51.2" y="76.70" width="2.4" height="1.4" fill="#5f5f5a"/><rect x="51.2" y="79.20" width="2.4" height="1.4" fill="#5f5f5a"/><rect x="51.2" y="81.70" width="2.4" height="1.4" fill="#5f5f5a"/><rect x="51.2" y="84.20" width="2.4" height="1.4" fill="#5f5f5a"/><rect x="51.2" y="86.70" width="2.4" height="1.4" fill="#5f5f5a"/><rect x="51.2" y="89.20" width="2.4" height="1.4" fill="#5f5f5a"/><rect x="51.2" y="91.70" width="2.4" height="1.4" fill="#5f5f5a"/><rect x="51.2" y="94.20" width="2.4" height="1.4" fill="#5f5f5a"/><rect x="51.2" y="96.70" width="2.4" height="1.4" fill="#5f5f5a"/><rect x="51.2" y="101.97" width="2.4" height="1.4" fill="#5f5f5a"/><rect x="51.2" y="104.47" width="2.4" height="1.4" fill="#5f5f5a"/><rect x="51.2" y="106.97" width="2.4" height="1.4" fill="#5f5f5a"/><rect x="51.2" y="109.47" width="2.4" height="1.4" fill="#5f5f5a"/><rect x="51.2" y="111.97" width="2.4" height="1.4" fill="#5f5f5a"/><rect x="51.2" y="114.47" width="2.4" height="1.4" fill="#5f5f5a"/><rect x="51.2" y="116.97" width="2.4" height="1.4" fill="#5f5f5a"/><rect x="51.2" y="119.47" width="2.4" height="1.4" fill="#5f5f5a"/><rect x="51.2" y="121.97" width="2.4" height="1.4" fill="#5f5f5a"/><rect x="51.2" y="124.47" width="2.4" height="1.4" fill="#5f5f5a"/><rect x="51.2" y="126.97" width="2.4" height="1.4" fill="#5f5f5a"/><rect x="51.2" y="132.54" width="2.4" height="1.4" fill="#5f5f5a"/><rect x="51.2" y="135.04" width="2.4" height="1.4" fill="#5f5f5a"/><rect x="51.2" y="137.54" width="2.4" height="1.4" fill="#5f5f5a"/><rect x="51.2" y="140.04" width="2.4" height="1.4" fill="#5f5f5a"/><rect x="51.2" y="142.54" width="2.4" height="1.4" fill="#5f5f5a"/><rect x="51.2" y="145.04" width="2.4" height="1.4" fill="#5f5f5a"/><rect x="51.2" y="147.54" width="2.4" height="1.4" fill="#5f5f5a"/><rect x="51.2" y="150.04" width="2.4" height="1.4" fill="#5f5f5a"/><rect x="51.2" y="152.54" width="2.4" height="1.4" fill="#5f5f5a"/><rect x="51.2" y="155.04" width="2.4" height="1.4" fill="#5f5f5a"/><polygon points="25,232.5 55,252.5 56,314.5 25,283" fill="url(#side)"/><polygon points="25,232.5 105.7,226 158.3,247.8 62,252 55,252.5" fill="url(#topg)"/><polygon points="55.00,252.20 158.30,247.80 158.30,278.85 55.54,285.84" fill="url(#front)"/><polygon points="55.00,252.20 158.30,247.80 158.30,249.82 55.04,254.39" fill="#e4e4e0"/><polygon points="55.52,284.33 158.30,277.45 158.30,278.85 55.54,285.84" fill="#a3a39e"/><polygon points="55.03,254.22 63.81,253.83 64.25,283.58 55.51,284.16" fill="#c9c9c4"/><polygon points="64.35,255.14 67.55,255.00 67.94,282.66 64.75,282.87" fill="#efefeb"/><polygon points="63.97,257.84 65.11,257.78 65.46,281.82 64.33,281.90" fill="#7d7d78"/><polygon points="152.10,249.31 158.30,249.04 158.30,277.61 152.13,278.02" fill="#c2c2bd"/><polygon points="154.38,251.08 155.20,251.04 155.22,276.57 154.39,276.62" fill="#8a8a85"/><polygon points="155.20,251.04 157.58,250.94 157.58,276.41 155.22,276.57" fill="#ececE8"/><polygon points="69.53,256.33 107.31,254.58 107.40,265.54 69.69,267.61" fill="#4d5259"/><polygon points="71.93,257.94 105.05,256.37 105.12,264.22 72.04,266.00" fill="#cfdbe3"/><polygon points="71.61,272.74 77.58,272.39 77.65,277.41 71.68,277.78" fill="#262626"/><rect x="115.00" y="258.87" width="2.6" height="2.2" fill="#7c8086"/><rect x="119.60" y="258.68" width="2.6" height="2.2" fill="#6c7076"/><rect x="126.90" y="258.36" width="2.6" height="2.2" fill="#bcb8a2"/><rect x="130.50" y="258.21" width="2.6" height="2.2" fill="#c0bca6"/><rect x="133.90" y="258.07" width="2.6" height="2.2" fill="#c4c0aa"/><rect x="115.00" y="262.47" width="2.6" height="2.2" fill="#7c8086"/><rect x="119.60" y="262.28" width="2.6" height="2.2" fill="#6c7076"/><rect x="126.90" y="261.96" width="2.6" height="2.2" fill="#bcb8a2"/><rect x="130.50" y="261.81" width="2.6" height="2.2" fill="#c0bca6"/><rect x="133.90" y="261.67" width="2.6" height="2.2" fill="#c4c0aa"/><rect x="115.00" y="266.07" width="2.6" height="2.2" fill="#7c8086"/><rect x="119.60" y="265.88" width="2.6" height="2.2" fill="#6c7076"/><rect x="126.90" y="265.56" width="2.6" height="2.2" fill="#bcb8a2"/><rect x="130.50" y="265.41" width="2.6" height="2.2" fill="#c0bca6"/><rect x="133.90" y="265.27" width="2.6" height="2.2" fill="#c4c0aa"/><rect x="115.00" y="269.67" width="2.6" height="2.2" fill="#6a9fb2"/><rect x="119.60" y="269.48" width="2.6" height="2.2" fill="#6a9fb2"/><rect x="126.90" y="269.16" width="2.6" height="2.2" fill="#bcb8a2"/><circle cx="143.80" cy="262.80" r="4.6" fill="url(#knob)" stroke="#6a6a65" stroke-width="1.1"/><polygon points="55.54,285.84 158.30,278.85 158.30,305.30 56.00,314.50" fill="url(#front)"/><polygon points="55.54,285.84 158.30,278.85 158.30,280.57 55.57,287.70" fill="#e4e4e0"/><polygon points="55.98,313.21 158.30,304.11 158.30,305.30 56.00,314.50" fill="#a3a39e"/><polygon points="55.57,287.56 64.30,286.96 64.67,312.29 55.98,313.07" fill="#c9c9c4"/><polygon points="64.83,288.06 68.01,287.84 68.35,311.40 65.18,311.68" fill="#efefeb"/><polygon points="64.45,290.36 65.58,290.28 65.88,310.76 64.76,310.86" fill="#7d7d78"/><polygon points="152.14,280.33 158.30,279.91 158.30,304.24 152.16,304.79" fill="#c2c2bd"/><polygon points="154.40,281.77 155.22,281.71 155.23,303.45 154.41,303.53" fill="#8a8a85"/><polygon points="155.22,281.71 157.58,281.55 157.58,303.25 155.23,303.45" fill="#ececE8"/><polygon points="69.97,288.13 107.56,285.48 107.65,296.07 70.12,299.04" fill="#4d5259"/><polygon points="72.36,289.69 105.32,287.32 105.38,294.81 72.46,297.37" fill="#cfdbe3"/><polygon points="72.04,303.82 77.98,303.32 78.05,308.53 72.11,309.05" fill="#262626"/><rect x="115.00" y="288.47" width="2.6" height="2.2" fill="#7c8086"/><rect x="119.60" y="288.28" width="2.6" height="2.2" fill="#6c7076"/><rect x="126.90" y="287.96" width="2.6" height="2.2" fill="#bcb8a2"/><rect x="130.50" y="287.81" width="2.6" height="2.2" fill="#c0bca6"/><rect x="133.90" y="287.67" width="2.6" height="2.2" fill="#c4c0aa"/><rect x="115.00" y="292.07" width="2.6" height="2.2" fill="#7c8086"/><rect x="119.60" y="291.88" width="2.6" height="2.2" fill="#6c7076"/><rect x="126.90" y="291.56" width="2.6" height="2.2" fill="#bcb8a2"/><rect x="130.50" y="291.41" width="2.6" height="2.2" fill="#c0bca6"/><rect x="133.90" y="291.27" width="2.6" height="2.2" fill="#c4c0aa"/><rect x="115.00" y="295.67" width="2.6" height="2.2" fill="#7c8086"/><rect x="119.60" y="295.48" width="2.6" height="2.2" fill="#6c7076"/><rect x="126.90" y="295.16" width="2.6" height="2.2" fill="#bcb8a2"/><rect x="130.50" y="295.01" width="2.6" height="2.2" fill="#c0bca6"/><rect x="133.90" y="294.87" width="2.6" height="2.2" fill="#c4c0aa"/><rect x="115.00" y="299.27" width="2.6" height="2.2" fill="#6a9fb2"/><rect x="119.60" y="299.08" width="2.6" height="2.2" fill="#6a9fb2"/><rect x="126.90" y="298.76" width="2.6" height="2.2" fill="#bcb8a2"/><circle cx="143.80" cy="292.40" r="4.6" fill="url(#knob)" stroke="#6a6a65" stroke-width="1.1"/><line x1="25" y1="259.77" x2="55" y2="285.98" stroke="#9d9d98" stroke-width="1.1"/><rect x="26.0" y="243.95" width="1.8" height="1.4" fill="#6a6a65"/><rect x="29.4" y="243.95" width="1.8" height="1.4" fill="#6a6a65"/><rect x="26.0" y="246.55" width="1.8" height="1.4" fill="#6a6a65"/><rect x="29.4" y="246.55" width="1.8" height="1.4" fill="#6a6a65"/><rect x="26.0" y="249.15" width="1.8" height="1.4" fill="#6a6a65"/><rect x="29.4" y="249.15" width="1.8" height="1.4" fill="#6a6a65"/><rect x="26.0" y="251.75" width="1.8" height="1.4" fill="#6a6a65"/><rect x="29.4" y="251.75" width="1.8" height="1.4" fill="#6a6a65"/><rect x="26.0" y="254.35" width="1.8" height="1.4" fill="#6a6a65"/><rect x="29.4" y="254.35" width="1.8" height="1.4" fill="#6a6a65"/><rect x="26.0" y="256.95" width="1.8" height="1.4" fill="#6a6a65"/><rect x="29.4" y="256.95" width="1.8" height="1.4" fill="#6a6a65"/><rect x="26.0" y="259.55" width="1.8" height="1.4" fill="#6a6a65"/><rect x="29.4" y="259.55" width="1.8" height="1.4" fill="#6a6a65"/><rect x="26.0" y="269.53" width="1.8" height="1.4" fill="#6a6a65"/><rect x="29.4" y="269.53" width="1.8" height="1.4" fill="#6a6a65"/><rect x="26.0" y="272.13" width="1.8" height="1.4" fill="#6a6a65"/><rect x="29.4" y="272.13" width="1.8" height="1.4" fill="#6a6a65"/><rect x="26.0" y="274.73" width="1.8" height="1.4" fill="#6a6a65"/><rect x="29.4" y="274.73" width="1.8" height="1.4" fill="#6a6a65"/><rect x="26.0" y="277.33" width="1.8" height="1.4" fill="#6a6a65"/><rect x="29.4" y="277.33" width="1.8" height="1.4" fill="#6a6a65"/><rect x="26.0" y="279.93" width="1.8" height="1.4" fill="#6a6a65"/><rect x="29.4" y="279.93" width="1.8" height="1.4" fill="#6a6a65"/><rect x="26.0" y="282.53" width="1.8" height="1.4" fill="#6a6a65"/><rect x="29.4" y="282.53" width="1.8" height="1.4" fill="#6a6a65"/><rect x="53.2" y="254.50" width="2.4" height="1.4" fill="#5f5f5a"/><rect x="53.2" y="257.00" width="2.4" height="1.4" fill="#5f5f5a"/><rect x="53.2" y="259.50" width="2.4" height="1.4" fill="#5f5f5a"/><rect x="53.2" y="262.00" width="2.4" height="1.4" fill="#5f5f5a"/><rect x="53.2" y="264.50" width="2.4" height="1.4" fill="#5f5f5a"/><rect x="53.2" y="267.00" width="2.4" height="1.4" fill="#5f5f5a"/><rect x="53.2" y="269.50" width="2.4" height="1.4" fill="#5f5f5a"/><rect x="53.2" y="272.00" width="2.4" height="1.4" fill="#5f5f5a"/><rect x="53.2" y="274.50" width="2.4" height="1.4" fill="#5f5f5a"/><rect x="53.2" y="277.00" width="2.4" height="1.4" fill="#5f5f5a"/><rect x="53.2" y="279.50" width="2.4" height="1.4" fill="#5f5f5a"/><rect x="53.2" y="282.00" width="2.4" height="1.4" fill="#5f5f5a"/><rect x="53.2" y="287.98" width="2.4" height="1.4" fill="#5f5f5a"/><rect x="53.2" y="290.48" width="2.4" height="1.4" fill="#5f5f5a"/><rect x="53.2" y="292.98" width="2.4" height="1.4" fill="#5f5f5a"/><rect x="53.2" y="295.48" width="2.4" height="1.4" fill="#5f5f5a"/><rect x="53.2" y="297.98" width="2.4" height="1.4" fill="#5f5f5a"/><rect x="53.2" y="300.48" width="2.4" height="1.4" fill="#5f5f5a"/><rect x="53.2" y="302.98" width="2.4" height="1.4" fill="#5f5f5a"/><rect x="53.2" y="305.48" width="2.4" height="1.4" fill="#5f5f5a"/><rect x="53.2" y="307.98" width="2.4" height="1.4" fill="#5f5f5a"/><rect x="53.2" y="310.48" width="2.4" height="1.4" fill="#5f5f5a"/>
</svg>
</body></html>
